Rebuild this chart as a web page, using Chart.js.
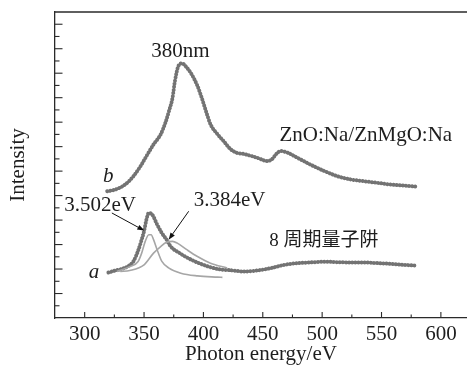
<!DOCTYPE html>
<html><head><meta charset="utf-8">
<script src="https://cdn.jsdelivr.net/npm/chart.js@4.4.1/dist/chart.umd.min.js"></script>
<style>html,body{margin:0;padding:0;background:#fff}#wrap{width:467px;height:369px}</style>
</head><body><div id="wrap"><canvas id="c" width="467" height="369"></canvas></div>
<script>
// Curve b: ZnO:Na/ZnMgO:Na
const bEnergy = [319,326,334,341,347,352,358,364,368,371,374,376,379,382,386,390,395,399,403,406,412,417,423,428,434,445,454,458,461,465,471,479,490,502,513,524,535,547,558,569,580];
const bIntensity = [5.18,5.25,5.45,5.79,6.20,6.61,7.09,7.50,7.98,8.45,9.00,9.68,10.30,10.40,10.23,9.96,9.48,8.93,8.32,7.91,7.50,7.23,6.89,6.75,6.70,6.55,6.41,6.50,6.68,6.82,6.75,6.55,6.27,6.00,5.79,5.66,5.59,5.52,5.45,5.41,5.36];
// Curve a: 8-period quantum well
const aEnergy = [320,326,331,337,341,345,348,350,352,354,357,361,365,369,372,381,389,400,412,423,434,445,457,468,479,490,502,513,524,535,547,558,569,580];
const aIntensity = [1.86,1.94,2.00,2.13,2.31,2.75,3.20,3.55,4.02,4.29,4.22,3.82,3.47,3.20,2.95,2.62,2.40,2.17,2.00,1.95,1.90,1.94,2.04,2.17,2.24,2.27,2.30,2.28,2.27,2.27,2.24,2.21,2.17,2.14];
// Fit peak 3.502 eV (narrow)
const fit1Energy = [327,338,345,348,351,354,356,358,361,365,371,381,395,412,416];
const fit1Intensity = [1.90,2.10,2.31,2.65,3.13,3.40,3.40,3.20,2.79,2.31,2.04,1.83,1.72,1.67,1.66];
// Fit peak 3.384 eV (broad)
const fit2Energy = [330,338,350,358,364,369,374,378,386,395,406,420];
const fit2Intensity = [1.90,1.94,2.17,2.65,2.92,3.09,3.13,3.06,2.79,2.51,2.24,2.04];

const xTickLabels = [300,350,400,450,500,550,600];
const xMinorTicks = [325,375,425,475,525,575];
const yMajorTicks = [1,2,3,4,5,6,7,8,9,10,11,12];
const yMinorTicks = [0.5,1.5,2.5,3.5,4.5,5.5,6.5,7.5,8.5,9.5,10.5,11.5,12.5];

const FAMILY = "'Liberation Serif','Noto Sans CJK SC',serif";
const TXT = '#1e1e1e';

const annotations = [
  {text:'380nm', x:380.6, y:10.9},
  {text:'ZnO:Na/ZnMgO:Na', x:536.8, y:7.47},
  {text:'8 周期量子阱', x:501.4, y:3.13, size:19},
  {text:'3.502eV', x:313, y:4.59},
  {text:'3.384eV', x:422, y:4.81},
  {text:'a', x:307.9, y:1.86, italic:true},
  {text:'b', x:319.8, y:5.78, italic:true}
];
const arrows = [
  {x1:322.9, y1:4.29, x2:350.2, y2:3.57},
  {x1:387.6, y1:4.36, x2:370.7, y2:3.20}
];

const pts = (xs, ys) => xs.map((x, i) => ({x, y: ys[i]}));

const decor = {
  id: 'decor',
  afterDraw(chart) {
    const {ctx, chartArea: ca, scales: {x, y}} = chart;
    ctx.save();
    ctx.strokeStyle = '#2a2a2a';
    ctx.lineWidth = 1.3;
    ctx.beginPath(); ctx.moveTo(ca.left, ca.top); ctx.lineTo(ca.right, ca.top); ctx.stroke();
    ctx.lineWidth = 1.1;
    const tick = (px, py, dx, dy) => { ctx.beginPath(); ctx.moveTo(px, py); ctx.lineTo(px + dx, py + dy); ctx.stroke(); };
    xTickLabels.forEach(v => tick(x.getPixelForValue(v), ca.bottom, 0, -6));
    xMinorTicks.forEach(v => tick(x.getPixelForValue(v), ca.bottom, 0, -3.5));
    yMajorTicks.forEach(v => tick(ca.left, y.getPixelForValue(v), 7.5, 0));
    yMinorTicks.forEach(v => { const p = y.getPixelForValue(v); if (p > ca.top + 1) tick(ca.left, p, 4.5, 0); });
    ctx.strokeStyle = '#111'; ctx.fillStyle = '#111'; ctx.lineWidth = 1;
    arrows.forEach(a => {
      const x1 = x.getPixelForValue(a.x1), y1 = y.getPixelForValue(a.y1);
      const x2 = x.getPixelForValue(a.x2), y2 = y.getPixelForValue(a.y2);
      const ang = Math.atan2(y2 - y1, x2 - x1), L = 7, W = 2.6;
      const bx = x2 - L * Math.cos(ang), by = y2 - L * Math.sin(ang);
      ctx.beginPath(); ctx.moveTo(x1, y1); ctx.lineTo(bx, by); ctx.stroke();
      ctx.beginPath(); ctx.moveTo(x2, y2);
      ctx.lineTo(bx + W * Math.sin(ang), by - W * Math.cos(ang));
      ctx.lineTo(bx - W * Math.sin(ang), by + W * Math.cos(ang));
      ctx.closePath(); ctx.fill();
    });
    ctx.fillStyle = TXT; ctx.textAlign = 'center'; ctx.textBaseline = 'middle';
    annotations.forEach(t => {
      ctx.font = (t.italic ? 'italic ' : '') + (t.size || 21) + 'px ' + FAMILY;
      ctx.fillText(t.text, x.getPixelForValue(t.x), y.getPixelForValue(t.y));
    });
    ctx.restore();
  }
};

const dotted = {
  borderColor: 'rgba(100,100,100,0.9)', borderWidth: 4, borderDash: [0.01, 3.1],
  borderCapStyle: 'round', pointRadius: 0, cubicInterpolationMode: 'monotone', fill: false
};
const fitStyle = {
  borderColor: '#a6a6a6', borderWidth: 1.6, pointRadius: 0, cubicInterpolationMode: 'monotone', fill: false
};

new Chart(document.getElementById('c'), {
  type: 'line',
  data: {
    datasets: [
      Object.assign({label: 'fit 3.384 eV', data: pts(fit2Energy, fit2Intensity)}, fitStyle),
      Object.assign({label: 'fit 3.502 eV', data: pts(fit1Energy, fit1Intensity)}, fitStyle),
      Object.assign({label: 'a', data: pts(aEnergy, aIntensity)}, dotted),
      Object.assign({label: 'b', data: pts(bEnergy, bIntensity)}, dotted)
    ]
  },
  options: {
    responsive: false, animation: false, devicePixelRatio: 1,
    layout: {padding: {top: 12, right: 0, left: 0, bottom: 0}},
    plugins: {legend: {display: false}, tooltip: {enabled: false}},
    scales: {
      x: {
        type: 'linear', min: 275, max: 622,
        afterFit: s => { s.height = 51; },
        afterBuildTicks: s => { s.ticks = xTickLabels.map(v => ({value: v})); },
        grid: {drawOnChartArea: false, drawTicks: false},
        border: {display: true, color: '#2a2a2a', width: 1.3},
        ticks: {color: TXT, font: {family: FAMILY, size: 21}, padding: 4, maxRotation: 0, autoSkip: false},
        title: {display: true, text: 'Photon energy/eV', color: TXT, font: {family: FAMILY, size: 21}, padding: {top: 0, bottom: 2}}
      },
      y: {
        type: 'linear', min: 0, max: 12.5,
        afterFit: s => { s.width = 55; },
        afterBuildTicks: s => { s.ticks = yMajorTicks.map(v => ({value: v})); },
        grid: {drawOnChartArea: false, drawTicks: false},
        border: {display: true, color: '#2a2a2a', width: 1.3},
        ticks: {display: false},
        title: {display: true, text: 'Intensity', color: TXT, font: {family: FAMILY, size: 21}, padding: {top: 6, bottom: 0}}
      }
    }
  },
  plugins: [decor]
});
</script>
</body></html>
